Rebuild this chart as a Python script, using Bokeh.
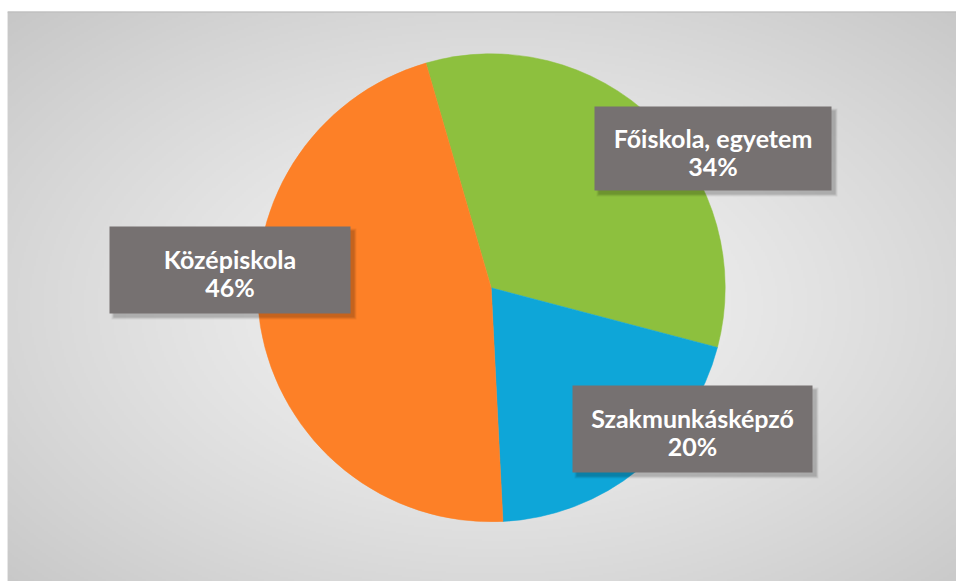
import numpy as np
from bokeh.plotting import figure
from bokeh.models import Range1d, ColumnDataSource
from bokeh.core.properties import value
from bokeh.embed import file_html
from bokeh.resources import INLINE

# ---- data ----
categories = ["Főiskola, egyetem", "Szakmunkásképző", "Középiskola"]
shares = [33.6, 20.1, 46.3]
colors = ["#8DC03E", "#0EA6D8", "#FD8027"]

# ---- layout constants ----
W, H, TOP, LEFT = 956, 581, 11, 7
FW, FH = W - LEFT, H - TOP
CX, CY, R = 483.7, 293.7, 234.0
START_DEG = 106.2
label_cx = [705.5, 685.0, 222.5]
label_cy = [433.0, 152.5, 311.5]
label_w = [237, 240, 241]
label_h = [84, 87, 87]

p = figure(width=W, height=H, x_range=Range1d(0, FW), y_range=Range1d(0, FH),
           output_backend="svg", toolbar_location=None,
           x_axis_location=None, y_axis_location=None,
           min_border_left=LEFT, min_border_right=0, min_border_bottom=0, min_border_top=TOP)
p.grid.visible = False
p.outline_line_color = None
p.border_fill_color = "white"
p.background_fill_color = "#e6e6e6"

# ---- radial background gradient ----
step = 2
nx, ny = FW // step + 1, FH // step + 1
xs = (np.arange(nx) + 0.5) * step
ys = (np.arange(ny) + 0.5) * step
X, Y = np.meshgrid(xs, ys)
px = X + LEFT
py = H - Y
t = np.sqrt(((px - 495) / 490.0) ** 2 + ((py - 305) / 300.0) ** 2) / np.sqrt(2)
g = np.clip(244 - 46 * np.clip(t, 0, 1.1) ** 1.25, 0, 255).astype(np.uint8)
img = np.empty((ny, nx), dtype=np.uint32)
v = img.view(dtype=np.uint8).reshape((ny, nx, 4))
v[:, :, 0] = g
v[:, :, 1] = g
v[:, :, 2] = g
v[:, :, 3] = 255
p.image_rgba(image=[img], x=0, y=0, dw=nx * step, dh=ny * step)

# top border line
p.segment(x0=[0], y0=[FH - 0.5], x1=[FW], y1=[FH - 0.5], line_color="#bfbfbf", line_width=1.5)

# ---- pie ----
fr = np.array(shares) / sum(shares)
ends = np.radians(START_DEG) - np.cumsum(fr) * 2 * np.pi
starts = np.concatenate([[np.radians(START_DEG)], ends[:-1]])
src = ColumnDataSource(dict(start=starts, end=ends, color=colors))
p.wedge(x=CX, y=CY, radius=R, start_angle="start", end_angle="end", direction="clock",
        fill_color="color", line_color="color", line_width=0.5, source=src)

# ---- label boxes with soft shadow ----
for k, a in enumerate([0.10, 0.08, 0.06]):
    p.rect(x=[c + 4 for c in label_cx], y=[c - 4 for c in label_cy],
           width=[w + 2 * k for w in label_w], height=[h + 2 * k for h in label_h],
           fill_color="black", fill_alpha=a, line_color=None)
p.rect(x=label_cx, y=label_cy, width=label_w, height=label_h,
       fill_color="#767171", line_color=None)

line1 = categories
line2 = [f"{round(s)}%" for s in shares]
p.text(x=label_cx, y=[c + 11 for c in label_cy], text=line1,
       text_font=value("Lato"), text_font_style="bold", text_font_size="25px",
       text_color="white", text_align="center", text_baseline="middle")
p.text(x=label_cx, y=[c - 17 for c in label_cy], text=line2,
       text_font=value("Lato"), text_font_style="bold", text_font_size="25px",
       text_color="white", text_align="center", text_baseline="middle")

open("out.html", "w").write(file_html(p, INLINE))
